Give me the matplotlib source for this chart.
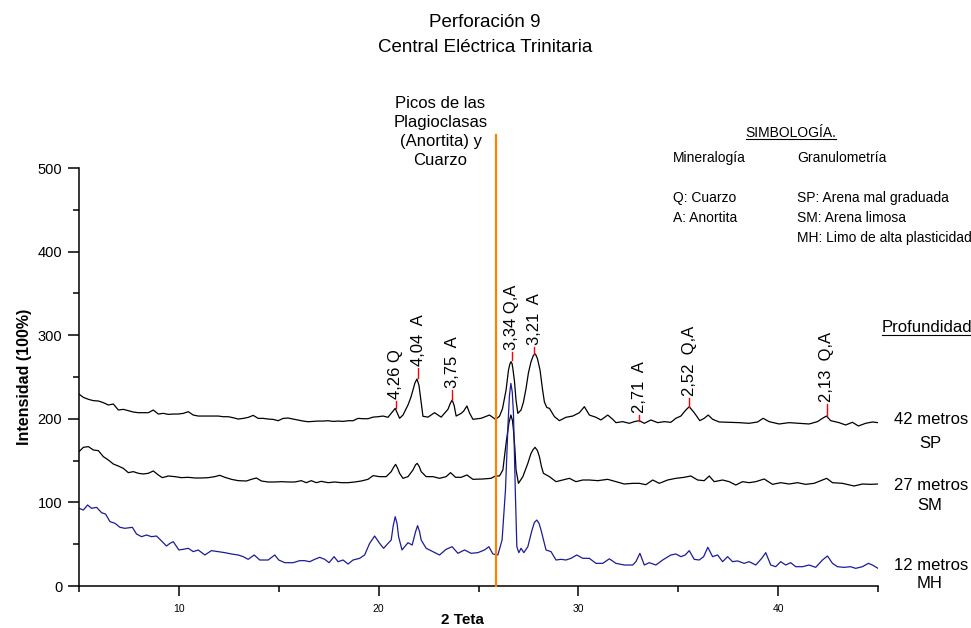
import numpy as np
import matplotlib
matplotlib.use("Agg")
import matplotlib.pyplot as plt
from matplotlib.lines import Line2D
from matplotlib.ticker import MultipleLocator

plt.rcParams['font.family'] = ['Liberation Sans', 'DejaVu Sans']

# (2 theta, intensity)
pts_42 = [(5.0, 229.6), (5.22, 225.6), (5.47, 223.3), (5.72, 221.7), (5.97, 221.3), (6.22, 219.3),
          (6.47, 216.5), (6.72, 217.7), (6.97, 210.5), (7.22, 211.3), (7.47, 209.7), (7.72, 208.1),
          (7.97, 207.3), (8.22, 207.3), (8.47, 207.3), (8.72, 210.5), (8.97, 205.7), (9.22, 206.5),
          (9.47, 205.3), (9.72, 205.7), (9.97, 205.7), (10.22, 206.5), (10.47, 208.5), (10.72, 204.5),
          (10.97, 203.3), (11.22, 203.3), (11.47, 203.3), (11.72, 203.3), (11.97, 203.3), (12.22, 202.5),
          (12.47, 202.5), (12.72, 201.3), (12.97, 199.7), (13.22, 200.5), (13.47, 201.7), (13.72, 204.1),
          (13.97, 200.5), (14.22, 200.5), (14.47, 199.7), (14.72, 199.3), (14.97, 197.7), (15.22, 200.5),
          (15.47, 200.9), (15.72, 199.7), (15.97, 198.5), (16.22, 197.3), (16.47, 196.5), (16.72, 196.9),
          (16.97, 197.3), (17.22, 197.3), (17.47, 197.7), (17.72, 196.9), (17.97, 197.3), (18.22, 196.9),
          (18.47, 197.7), (18.72, 197.7), (18.97, 200.5), (19.22, 200.1), (19.47, 200.1), (19.72, 202.0),
          (19.97, 202.5), (20.22, 203.3), (20.47, 201.8), (20.63, 206.5), (20.75, 210.0), (20.83, 212.5),
          (20.93, 207.0), (21.05, 200.6), (21.22, 204.5), (21.47, 216.5), (21.62, 226.0), (21.72, 234.4),
          (21.82, 243.0), (21.92, 247.6), (22.02, 240.0), (22.1, 225.0), (22.22, 203.0), (22.47, 202.0),
          (22.8, 207.3), (23.13, 202.0), (23.47, 211.3), (23.58, 218.0), (23.68, 222.5), (23.78, 216.0),
          (23.88, 203.3), (24.13, 206.5), (24.25, 209.0), (24.42, 215.3), (24.55, 207.0), (24.72, 199.4),
          (25.13, 200.6), (25.55, 204.5), (25.85, 199.4), (26.05, 203.0), (26.2, 212.0), (26.38, 234.4),
          (26.5, 258.0), (26.57, 265.5), (26.63, 268.3), (26.68, 266.0), (26.72, 260.0), (26.8, 245.0),
          (26.88, 222.0), (26.97, 206.5), (27.13, 210.5), (27.25, 220.0), (27.38, 236.4), (27.5, 255.0),
          (27.63, 268.3), (27.75, 276.0), (27.85, 277.5), (27.95, 272.0), (28.08, 258.4), (28.2, 236.0),
          (28.3, 220.0), (28.42, 213.5),
          (28.55, 212.5), (28.8, 202.6), (29.05, 197.8), (29.38, 201.8), (29.72, 203.3), (30.05, 207.3),
          (30.3, 214.5), (30.55, 204.5), (30.88, 201.8), (31.13, 198.6), (31.47, 204.5), (31.72, 199.4),
          (31.88, 195.4), (32.22, 196.6), (32.55, 194.6), (32.8, 196.6), (33.05, 197.8), (33.3, 194.6),
          (33.63, 198.6), (33.97, 195.4), (34.3, 196.6), (34.63, 195.8), (34.88, 200.6), (35.13, 203.3),
          (35.38, 210.5), (35.55, 214.5), (35.8, 207.3), (36.08, 197.8), (36.3, 200.6), (36.5, 204.5),
          (36.72, 199.4), (37.05, 196.2), (37.55, 195.8), (38.05, 195.4), (38.55, 194.6), (38.97, 196.2),
          (39.25, 200.6), (39.55, 196.6), (40.05, 193.8), (40.55, 195.4), (41.05, 194.6), (41.55, 193.8),
          (41.97, 196.6), (42.22, 200.6), (42.42, 203.3), (42.63, 197.8), (43.05, 195.4), (43.38, 192.6),
          (43.72, 195.8), (44.02, 191.4), (44.38, 194.6), (44.72, 196.2), (45.0, 195.4)]

pts_27 = [(5.0, 160.7), (5.22, 165.9), (5.47, 166.7), (5.72, 162.7), (5.97, 161.9), (6.22, 154.7),
          (6.47, 150.7), (6.72, 145.9), (6.97, 143.5), (7.22, 140.7), (7.47, 135.6), (7.72, 136.8),
          (7.97, 134.8), (8.22, 134.0), (8.47, 134.8), (8.72, 137.6), (8.97, 132.8), (9.17, 129.6),
          (9.47, 131.6), (9.8, 130.8), (10.13, 129.6), (10.47, 130.0), (10.8, 129.2), (11.13, 129.2),
          (11.47, 129.6), (11.8, 130.8), (12.05, 132.4), (12.3, 130.0), (12.63, 127.6), (12.97, 126.0),
          (13.38, 125.6), (13.63, 127.6), (13.88, 129.2), (14.13, 125.6), (14.47, 124.4), (14.8, 124.4),
          (15.13, 124.8), (15.47, 124.4), (15.8, 124.4), (16.13, 126.0), (16.38, 123.6), (16.63, 126.0),
          (16.88, 123.6), (17.13, 125.2), (17.47, 123.6), (17.8, 124.4), (18.13, 123.6), (18.47, 123.6),
          (18.8, 124.4), (19.13, 125.6), (19.47, 127.6), (19.72, 132.0), (20.05, 130.8), (20.38, 130.8),
          (20.63, 136.8), (20.75, 142.0), (20.85, 145.5), (20.95, 141.0), (21.05, 134.8), (21.22, 128.8),
          (21.47, 130.8), (21.72, 138.8), (21.85, 145.0), (21.93, 146.7), (22.03, 143.0), (22.13, 136.8),
          (22.38, 130.8), (22.72, 130.8), (23.05, 128.8), (23.38, 130.8), (23.6, 135.6), (23.85, 130.0),
          (24.13, 130.0), (24.42, 132.8), (24.72, 127.6), (25.22, 128.0), (25.63, 128.8), (25.85, 131.6),
          (26.05, 131.6), (26.22, 138.8), (26.38, 170.6), (26.52, 194.6), (26.62, 204.5), (26.7, 198.0),
          (26.75, 186.6), (26.82, 165.0), (26.88, 138.8), (27.0, 122.8), (27.22, 130.8), (27.47, 146.7),
          (27.62, 158.0), (27.72, 162.7), (27.83, 165.9), (27.95, 162.0), (28.05, 154.7), (28.15, 143.0),
          (28.25, 134.8), (28.55, 130.8), (28.88, 124.8), (29.22, 126.8), (29.55, 128.8), (29.88, 124.8),
          (30.22, 126.8), (30.55, 126.8), (30.97, 126.0), (31.47, 127.6), (31.88, 124.8), (32.3, 122.0),
          (32.72, 122.8), (33.05, 122.8), (33.38, 121.2), (33.72, 126.8), (34.05, 122.8), (34.47, 126.8),
          (34.88, 128.8), (35.3, 130.0), (35.63, 131.6), (35.97, 126.8), (36.3, 126.0), (36.55, 131.6),
          (36.8, 124.8), (37.22, 126.8), (37.55, 124.8), (37.88, 120.8), (38.22, 124.8), (38.55, 123.6),
          (38.88, 124.8), (39.3, 128.0), (39.72, 121.6), (40.13, 123.6), (40.55, 122.0), (40.97, 123.6),
          (41.38, 121.6), (41.8, 122.8), (42.13, 126.0), (42.43, 128.8), (42.72, 123.6), (43.22, 122.8),
          (43.8, 119.6), (44.22, 122.0), (44.63, 121.6), (45.0, 122.0)]

pts_12 = [(5.0, 92.9), (5.22, 90.9), (5.43, 96.9), (5.63, 92.9), (5.88, 94.1), (6.13, 87.7),
          (6.33, 86.1), (6.55, 77.0), (6.8, 75.0), (7.05, 70.2), (7.3, 69.0), (7.67, 70.2),
          (7.88, 62.2), (8.13, 59.0), (8.38, 61.0), (8.63, 59.0), (8.88, 59.8), (9.17, 53.0),
          (9.38, 47.8), (9.55, 51.0), (9.72, 53.0), (10.0, 43.1), (10.22, 43.9), (10.47, 45.1),
          (10.72, 41.1), (10.97, 43.1), (11.3, 37.1), (11.63, 42.3), (11.97, 41.1), (12.3, 39.9),
          (12.63, 38.3), (12.97, 37.1), (13.22, 35.1), (13.47, 31.9), (13.77, 37.1), (14.05, 31.1),
          (14.47, 31.1), (14.8, 37.1), (15.0, 31.1), (15.3, 27.9), (15.72, 27.9), (16.05, 30.3),
          (16.3, 30.3), (16.55, 29.1), (16.8, 31.9), (17.05, 34.3), (17.3, 31.9), (17.52, 27.9),
          (17.77, 35.1), (17.97, 29.1), (18.22, 31.1), (18.47, 26.3), (18.72, 31.1), (19.05, 33.1),
          (19.3, 37.1), (19.55, 51.0), (19.8, 59.8), (20.05, 51.0), (20.25, 45.1), (20.47, 51.0),
          (20.63, 55.0), (20.73, 72.0), (20.83, 82.9), (20.92, 75.0), (21.0, 59.0), (21.17, 43.1),
          (21.47, 51.8), (21.68, 49.0), (21.85, 65.0), (21.95, 72.2), (22.05, 65.0), (22.13, 55.0),
          (22.38, 45.1), (22.72, 41.1), (23.05, 37.1), (23.38, 43.9), (23.68, 47.0), (23.97, 39.1),
          (24.3, 43.1), (24.63, 39.1), (24.97, 39.9), (25.3, 43.1), (25.52, 47.0), (25.72, 38.3),
          (25.97, 37.1), (26.18, 55.0), (26.35, 114.8), (26.48, 194.6), (26.55, 228.0), (26.62, 242.4),
          (26.69, 232.0), (26.75, 206.5), (26.85, 106.9), (26.92, 47.0), (27.02, 39.9), (27.13, 45.1),
          (27.27, 39.9), (27.47, 47.0), (27.68, 67.0), (27.8, 76.0), (27.92, 78.9), (28.03, 75.0),
          (28.13, 67.0), (28.38, 43.1), (28.63, 41.1), (28.88, 31.1), (29.13, 31.9), (29.38, 31.1),
          (29.63, 33.1), (29.92, 37.1), (30.22, 33.1), (30.55, 33.1), (30.88, 27.1), (31.22, 27.1),
          (31.55, 32.5), (31.88, 27.1), (32.3, 25.1), (32.72, 25.1), (32.88, 29.1), (33.08, 39.1),
          (33.3, 25.1), (33.55, 27.9), (33.88, 25.1), (34.22, 31.1), (34.63, 37.1), (34.88, 38.3),
          (35.13, 35.1), (35.35, 37.1), (35.55, 42.3), (35.8, 31.9), (36.05, 31.1), (36.27, 35.1),
          (36.48, 46.3), (36.72, 35.1), (36.97, 37.1), (37.22, 29.1), (37.47, 35.1), (37.72, 29.1),
          (37.97, 30.0), (38.3, 27.1), (38.55, 29.1), (38.88, 25.1), (39.18, 33.1), (39.38, 39.9),
          (39.63, 25.1), (39.88, 23.1), (40.13, 29.1), (40.38, 25.1), (40.63, 27.9), (40.88, 23.1),
          (41.22, 23.1), (41.55, 25.1), (41.88, 22.3), (42.22, 31.1), (42.47, 35.9), (42.72, 27.1),
          (42.97, 23.1), (43.3, 22.3), (43.63, 23.1), (43.88, 21.1), (44.22, 23.1), (44.52, 27.1),
          (44.72, 25.1), (45.0, 21.1)]

# peak marks on the 42 m pattern
peak_pos = [20.85, 21.98, 23.68, 26.67, 27.8, 33.05, 35.55, 42.43]
peak_lbl = ['4,26 Q', '4,04  A', '3,75  A', '3,34 Q,A', '3,21  A', '2,71  A', '2,52  Q,A', '2,13  Q,A']
mark_lo = [213, 249, 223, 270, 277, 197, 214, 203]
mark_hi = [221, 261, 234, 280, 286, 204, 225, 218]

depth_lbl = ['42 metros', '27 metros', '12 metros']
soil_lbl = ['SP', 'SM', 'MH']
plagio_x = 25.9

fig = plt.figure(figsize=(9.71, 6.28), dpi=100)
ax = fig.add_axes([79 / 971, 42 / 628, 799 / 971, 418 / 628])

x42, y42 = np.array(pts_42).T
x27, y27 = np.array(pts_27).T
x12, y12 = np.array(pts_12).T
ax.plot(x42, y42, color='black', lw=0.9)
ax.plot(x27, y27, color='black', lw=0.9)
ax.plot(x12, y12, color='#1c1c96', lw=0.9)

ax.plot([plagio_x, plagio_x], [0, 540], color='#ff8000', lw=1.6, clip_on=False, zorder=5)
ax.text(23.1, 543, 'Picos de las\nPlagioclasas\n(Anortita) y\nCuarzo', ha='center',
        va='center', multialignment='center', fontsize=12, linespacing=1.35)

for p, lab, lo, hi in zip(peak_pos, peak_lbl, mark_lo, mark_hi):
    ax.plot([p, p], [lo, hi], color='red', lw=1.0, zorder=4)
    ax.text(p, hi + 2.5, lab, rotation=90, ha='center', va='bottom', fontsize=12)

ax.set_xlim(5, 45)
ax.set_ylim(0, 500)
ax.spines['top'].set_visible(False)
ax.spines['right'].set_visible(False)
ax.spines['left'].set_linewidth(1.1)
ax.spines['bottom'].set_linewidth(1.1)
ax.xaxis.set_major_locator(MultipleLocator(10))
ax.xaxis.set_minor_locator(MultipleLocator(5))
ax.yaxis.set_major_locator(MultipleLocator(100))
ax.yaxis.set_minor_locator(MultipleLocator(50))
ax.tick_params(axis='x', which='major', length=7, width=1.1, labelsize=7.5, pad=6)
ax.tick_params(axis='x', which='minor', length=4.5, width=1.1)
ax.tick_params(axis='y', which='major', length=8, width=1.1, labelsize=10.5, pad=4)
ax.tick_params(axis='y', which='minor', length=4.5, width=1.1)
ax.set_ylabel('Intensidad (100%)', fontsize=11.5, fontweight='bold', labelpad=4)


def fx(px):
    return px / 971


def fy(py):
    return 1 - py / 628


fig.text(fx(462), fy(620), '2 Teta', ha='center', va='center', fontsize=11, fontweight='bold')

# title
fig.text(fx(485), fy(35), 'Perforación 9\nCentral Eléctrica Trinitaria', ha='center',
         va='center', fontsize=13.5, linespacing=1.55)

# legend block
t_simb = fig.text(fx(791), fy(133), 'SIMBOLOGÍA.', ha='center', va='center', fontsize=10)
fig.text(fx(673), fy(158), 'Mineralogía', va='center', fontsize=10)
fig.text(fx(797), fy(158), 'Granulometría', va='center', fontsize=10)
fig.text(fx(673), fy(198), 'Q: Cuarzo', va='center', fontsize=10)
fig.text(fx(673), fy(218), 'A: Anortita', va='center', fontsize=10)
fig.text(fx(797), fy(198), 'SP: Arena mal graduada', va='center', fontsize=10)
fig.text(fx(797), fy(218), 'SM: Arena limosa', va='center', fontsize=10)
fig.text(fx(797), fy(238), 'MH: Limo de alta plasticidad', va='center', fontsize=10)
t_prof = fig.text(fx(882), fy(328), 'Profundidad', va='center', fontsize=12)

depth_y = [420, 485, 565]
soil_y = [443, 506, 584]
for d, s, dy, sy in zip(depth_lbl, soil_lbl, depth_y, soil_y):
    fig.text(fx(931), fy(dy), d, ha='center', va='center', fontsize=12)
    fig.text(fx(930), fy(sy), s, ha='center', va='center', fontsize=12)

# underline two headings
fig.canvas.draw()
inv = fig.transFigure.inverted()
for t in (t_simb, t_prof):
    bb = t.get_window_extent()
    (x0, y0), (x1, _) = inv.transform([(bb.x0, bb.y0 + 1), (bb.x1, bb.y0 + 1)])
    fig.add_artist(Line2D([x0, x1], [y0, y0], color='black', lw=0.8, transform=fig.transFigure))

fig.savefig('out.png', dpi=100)
